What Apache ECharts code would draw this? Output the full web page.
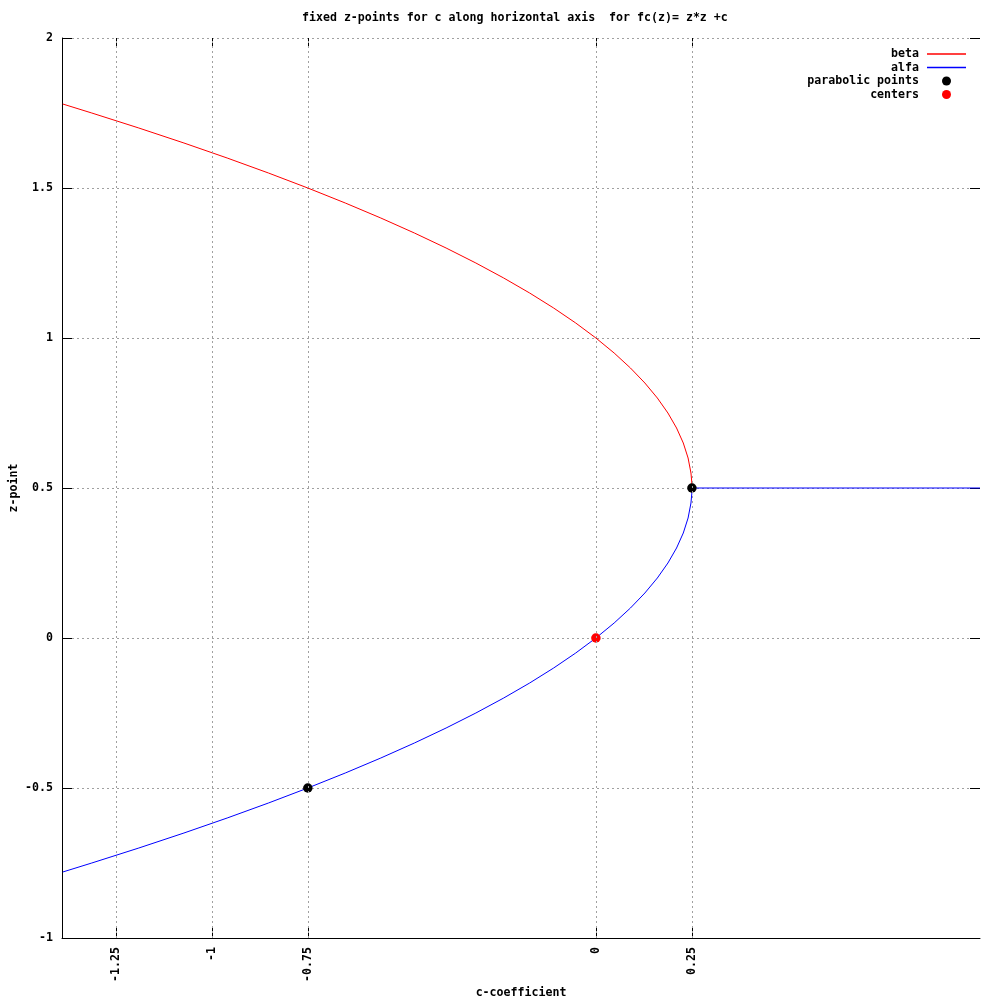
<!DOCTYPE html>
<html>
<head>
<meta charset="utf-8">
<script src="https://cdn.jsdelivr.net/npm/echarts@6/dist/echarts.min.js"></script>
<style>
html,body{margin:0;padding:0;background:#fff;}
#chart{width:1000px;height:1000px;}
</style>
</head>
<body>
<div id="chart"></div>
<script>
// ---- data ----
const titleText = 'fixed z-points for c along horizontal axis  for fc(z)= z*z +c';
const xName = 'c-coefficient';
const yName = 'z-point';
const xTicks = [-1.25, -1, -0.75, 0, 0.25];
const xRange = [-1.39, 1.0];
const yRange = [-1, 2];
const yStep = 0.5;

// beta: upper branch, [c, z]
const betaPoints = [
  [-1.388, 1.78], [-1.3125, 1.75], [-1.19, 1.7], [-1.0725, 1.65], [-0.96, 1.6],
  [-0.8525, 1.55], [-0.75, 1.5], [-0.6525, 1.45], [-0.56, 1.4], [-0.4725, 1.35],
  [-0.39, 1.3], [-0.3125, 1.25], [-0.24, 1.2], [-0.1725, 1.15], [-0.11, 1.1],
  [-0.0525, 1.05], [0, 1.0], [0.0475, 0.95], [0.09, 0.9], [0.1275, 0.85],
  [0.16, 0.8], [0.1875, 0.75], [0.21, 0.7], [0.2275, 0.65], [0.24, 0.6],
  [0.2475, 0.55], [0.2496, 0.52], [0.25, 0.5]
];
// alfa: lower branch then flat line, [c, z]
const alfaPoints = [
  [-1.388, -0.78], [-1.3125, -0.75], [-1.19, -0.7], [-1.0725, -0.65], [-0.96, -0.6],
  [-0.8525, -0.55], [-0.75, -0.5], [-0.6525, -0.45], [-0.56, -0.4], [-0.4725, -0.35],
  [-0.39, -0.3], [-0.3125, -0.25], [-0.24, -0.2], [-0.1725, -0.15], [-0.11, -0.1],
  [-0.0525, -0.05], [0, 0], [0.0475, 0.05], [0.09, 0.1], [0.1275, 0.15],
  [0.16, 0.2], [0.1875, 0.25], [0.21, 0.3], [0.2275, 0.35], [0.24, 0.4],
  [0.2475, 0.45], [0.2496, 0.48], [0.25, 0.5], [1.0, 0.5]
];
const parabolicPoints = [[0.25, 0.5], [-0.75, -0.5]];
const centerPoints = [[0, 0]];

// ---- chart ----
const FONT = 'DejaVu Sans Mono';
const FS = 11.6;
const txt = {fontFamily: FONT, fontSize: FS, fontWeight: 'bold', color: '#000'};
const gridDash = {color: '#a0a0a0', width: 1, type: [2, 3]};
const lineIcon = 'path://M0,0 L39,0 L39,1.4 L0,1.4 Z';

const chart = echarts.init(document.getElementById('chart'), null, {renderer: 'canvas'});
chart.setOption({
  animation: false,
  backgroundColor: '#fff',
  title: {
    text: titleText,
    left: 302, top: 12, padding: 0,
    textStyle: Object.assign({}, txt)
  },
  legend: {
    data: [
      {name: 'beta', icon: lineIcon, itemStyle: {color: '#ff0000', borderWidth: 0}},
      {name: 'alfa', icon: lineIcon, itemStyle: {color: '#0000ff', borderWidth: 0}},
      {name: 'parabolic points', icon: 'circle', itemStyle: {color: '#000000', borderWidth: 0}},
      {name: 'centers', icon: 'circle', itemStyle: {color: '#ff0000', borderWidth: 0}}
    ],
    orient: 'vertical',
    align: 'right',
    right: 34, top: 48, padding: 0,
    itemWidth: 39, itemHeight: 9, itemGap: 1.5,
    symbolKeepAspect: true,
    textStyle: Object.assign({padding: [0, 3, 0, 0]}, txt),
    selectedMode: false
  },
  grid: {left: 62, right: 20, top: 38, bottom: 62, containLabel: false, outerBoundsMode: 'none'},
  xAxis: [{
    type: 'value', position: 'bottom',
    min: xRange[0], max: xRange[1],
    name: xName, nameLocation: 'middle', nameGap: 49, nameMoveOverlap: false,
    nameTextStyle: Object.assign({}, txt),
    axisLine: {show: true, onZero: false, lineStyle: {color: '#000', width: 1}},
    axisTick: {show: true, inside: true, length: 10, customValues: xTicks, lineStyle: {color: '#000', width: 1}},
    axisLabel: Object.assign({show: true, rotate: 90, margin: 9, customValues: xTicks}, txt),
    splitLine: {show: false}
  }, {
    type: 'value', position: 'top',
    min: xRange[0], max: xRange[1],
    axisLine: {show: false, onZero: false},
    axisTick: {show: true, inside: true, length: 10, customValues: xTicks, lineStyle: {color: '#000', width: 1}},
    axisLabel: {show: false},
    splitLine: {show: false}
  }],
  yAxis: [{
    type: 'value', position: 'left',
    min: yRange[0], max: yRange[1], interval: yStep,
    name: yName, nameLocation: 'middle', nameGap: 42, nameRotate: 90, nameMoveOverlap: false,
    nameTextStyle: Object.assign({}, txt),
    axisLine: {show: true, onZero: false, lineStyle: {color: '#000', width: 1}},
    axisTick: {show: true, inside: true, length: 10, lineStyle: {color: '#000', width: 1}},
    axisLabel: Object.assign({show: true, margin: 9}, txt),
    splitLine: {show: true, lineStyle: gridDash}
  }, {
    type: 'value', position: 'right',
    min: yRange[0], max: yRange[1], interval: yStep,
    axisLine: {show: false, onZero: false},
    axisTick: {show: true, inside: true, length: 10, lineStyle: {color: '#000', width: 1}},
    axisLabel: {show: false},
    splitLine: {show: false}
  }],
  series: [
    {
      name: 'xgrid', type: 'line', data: [], z: 1, silent: true,
      markLine: {
        silent: true, symbol: ['none', 'none'], animation: false,
        label: {show: false},
        lineStyle: gridDash,
        emphasis: {disabled: true},
        data: xTicks.map(v => ({xAxis: v}))
      }
    },
    {
      name: 'beta', type: 'line', data: betaPoints, symbol: 'none', z: 3,
      color: '#ff0000',
      lineStyle: {color: '#ff0000', width: 1}, itemStyle: {color: '#ff0000'}
    },
    {
      name: 'alfa', type: 'line', data: alfaPoints, symbol: 'none', z: 3,
      color: '#0000ff',
      lineStyle: {color: '#0000ff', width: 1}, itemStyle: {color: '#0000ff'}
    },
    {
      name: 'parabolic points', type: 'scatter', data: parabolicPoints, z: 4,
      symbol: 'circle', symbolSize: 9.5, itemStyle: {color: '#000000', opacity: 1}
    },
    {
      name: 'centers', type: 'scatter', data: centerPoints, z: 4,
      symbol: 'circle', symbolSize: 9.5, itemStyle: {color: '#ff0000', opacity: 1}
    }
  ]
});
</script>
</body>
</html>
